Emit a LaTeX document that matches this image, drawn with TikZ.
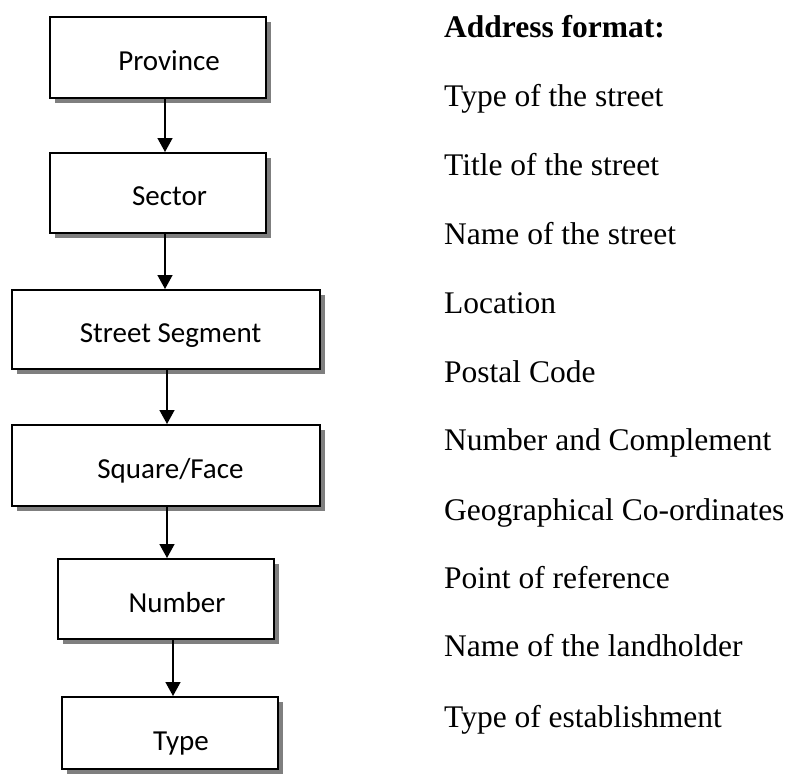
\documentclass[tikz,border=0pt]{standalone}
\usepackage{fontspec}
\setmainfont{Liberation Serif}
\newfontfamily\boxfont{Carlito}
\usetikzlibrary{arrows.meta,shadows}

\definecolor{shadowgray}{HTML}{7F7F7F}

\tikzset{
  levelbox/.style={draw=black, line width=2pt, fill=white, inner sep=0pt,
    minimum height=#1, rectangle,
    drop shadow={shadow xshift=5pt, shadow yshift=-5pt, fill=shadowgray, opacity=1}},
  narrowbox/.style={levelbox=#1, minimum width=216pt},
  widebox/.style={levelbox=#1, minimum width=308pt},
  boxtext/.style={anchor=base, inner sep=0pt, font=\boxfont\fontsize{29}{34}\selectfont},
  fieldtext/.style={anchor=base west, inner sep=0pt, font=\fontsize{31.5}{38}\selectfont},
  flow/.style={line width=1.5pt, -{Triangle[width=15pt,length=14pt]}}
}

\begin{document}
\begin{tikzpicture}[x=1pt, y=1pt]
  \useasboundingbox (0,0) rectangle (789,-779);

  % hierarchy of address levels
  \node[narrowbox=81pt] (prov)  at (158,-57.5) {};
  \node[narrowbox=80pt] (sect)  at (158,-193)  {};
  \node[widebox=79pt]   (seg)   at (166,-329.5){};
  \node[widebox=81pt]   (sq)    at (166,-465.5){};
  \node[narrowbox=80pt] (num)   at (166,-599)  {};
  \node[narrowbox=72pt] (typ)   at (170,-733)  {};

  \node[boxtext] (tprov) at (169,-70)    {Province};
  \node[boxtext] (tsect) at (169.5,-205) {Sector};
  \node[boxtext] (tseg)  at (170.5,-342) {Street Segment};
  \node[boxtext] (tsq)   at (170.5,-478) {Square/Face};
  \node[boxtext] (tnum)  at (177,-612)   {Number};
  \node[boxtext] (ttyp)  at (181,-750)   {Type};

  % connectors between levels
  \draw[flow] ([xshift=7pt]prov.south) -- ([xshift=7pt]sect.north);
  \draw[flow] ([xshift=7pt]sect.south) -- ([xshift=-1pt]seg.north);
  \draw[flow] ([xshift=1pt]seg.south)  -- ([xshift=1pt]sq.north);
  \draw[flow] ([xshift=1pt]sq.south)   -- ([xshift=1pt]num.north);
  \draw[flow] ([xshift=7pt]num.south)  -- ([xshift=3pt]typ.north);

  % list of address fields
  \node[fieldtext, font=\bfseries\fontsize{31.5}{38}\selectfont] (f0) at (444,-37) {Address format:};
  \node[fieldtext] (f1)  at (444,-106) {Type of the street};
  \node[fieldtext] (f2)  at (444,-175) {Title of the street};
  \node[fieldtext] (f3)  at (444,-244) {Name of the street};
  \node[fieldtext] (f4)  at (444,-313) {Location};
  \node[fieldtext] (f5)  at (444,-382) {Postal Code};
  \node[fieldtext] (f6)  at (444,-450) {Number and Complement};
  \node[fieldtext] (f7)  at (444,-520) {Geographical Co-ordinates};
  \node[fieldtext] (f8)  at (444,-588) {Point of reference};
  \node[fieldtext] (f9)  at (444,-656) {Name of the landholder};
  \node[fieldtext] (f10) at (444,-727) {Type of establishment};
\end{tikzpicture}
\end{document}
